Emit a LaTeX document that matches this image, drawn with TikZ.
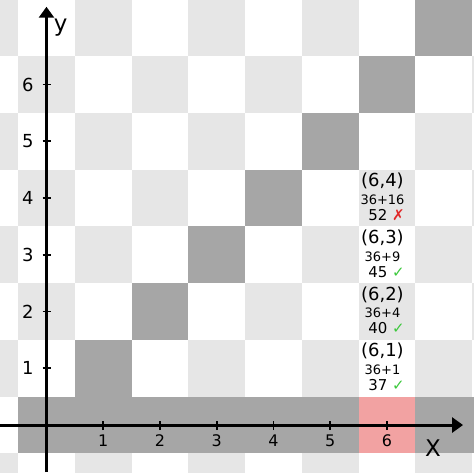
\documentclass[tikz,border=0pt]{standalone}
\usepackage{fontspec}
\setmainfont{DejaVu Sans}
\usepackage{xcolor}
\usepackage{tikz}
\usetikzlibrary{positioning,arrows.meta}
\definecolor{lightsq}{HTML}{E6E6E6}
\definecolor{darksq}{HTML}{A6A6A6}
\definecolor{hitsq}{HTML}{F2A2A2}
\definecolor{okgreen}{HTML}{3CC83C}
\definecolor{badred}{HTML}{E02828}
\newcommand{\okmark}{\textcolor{okgreen}{✓}}
\newcommand{\badmark}{\textcolor{badred}{✗}}

\begin{document}
\begin{tikzpicture}[
        axis/.style={line width=1.5pt,-{Triangle[width=7.5pt,length=5.5pt]}},
        axtick/.style={line width=0.9pt},
        xlbl/.style={font=\fontsize{8}{8}\selectfont,inner sep=0pt},
        ylbl/.style={font=\fontsize{9}{9}\selectfont,inner sep=0pt},
        axlbl/.style={font=\fontsize{11.5}{11.5}\selectfont,inner sep=0pt},
        pairlbl/.style={font=\fontsize{9}{9}\selectfont,inner sep=0pt},
        sumlbl/.style={font=\fontsize{6.5}{6.5}\selectfont,inner sep=0pt},
        totlbl/.style={font=\fontsize{7.5}{7.5}\selectfont,inner sep=0pt,anchor=east}]
        \useasboundingbox (-0.819,-0.828) rectangle (7.533,7.489);
        \clip (-0.819,-0.828) rectangle (7.533,7.489);
        % checkerboard
        \foreach \i in {-1,...,8}
          \foreach \j in {-1,...,7}{
            \pgfmathtruncatemacro{\pty}{mod(\i+\j+20,2)}
            \ifnum\pty=0 \fill[lightsq] (\i-0.5,\j-0.5) rectangle ++(1,1); \fi
          }
        \foreach \i in {0,...,8}
          \fill[darksq] (\i-0.5,-0.5) rectangle ++(1,1);
        \foreach \i in {1,...,7}
          \fill[darksq] (\i-0.5,\i-0.5) rectangle ++(1,1);
        \fill[hitsq] (5.5,-0.5) rectangle ++(1,1);
        % axes
        \coordinate (xs) at (-0.82,0);
        \coordinate (xe) at (7.34,0);
        \coordinate (ys) at (0,-0.83);
        \coordinate (ye) at (0,7.37);
        \draw[axis] (xs) -- (xe);
        \draw[axis] (ys) -- (ye);
        \foreach \n in {1,...,6}{
          \draw[axtick] (\n,-0.09) -- (\n,0.07);
          \node[xlbl] (x\n) at (\n,-0.28) {\n};
          \draw[axtick] (-0.07,\n) -- (0.08,\n);
          \node[ylbl] (y\n) at (-0.33,\n) {\n};
        }
        \node[axlbl] (ylab) at (0.25,7.0) {y};
        \node[axlbl] (xlab) at (6.81,-0.4) {X};
        % sums in column 6
        \foreach \k/\s/\r/\m in {1/1/37/\okmark,2/4/40/\okmark,3/9/45/\okmark,4/16/52/\badmark}{
          \node[pairlbl] (p\k) at (5.92,\k+0.3) {(6,\k)};
          \node[sumlbl] (s\k) at (5.92,\k-0.03) {36+\s};
          \node[totlbl] (t\k) at (6.32,\k-0.3) {\r\ \m};
        }
      \end{tikzpicture}
\end{document}
